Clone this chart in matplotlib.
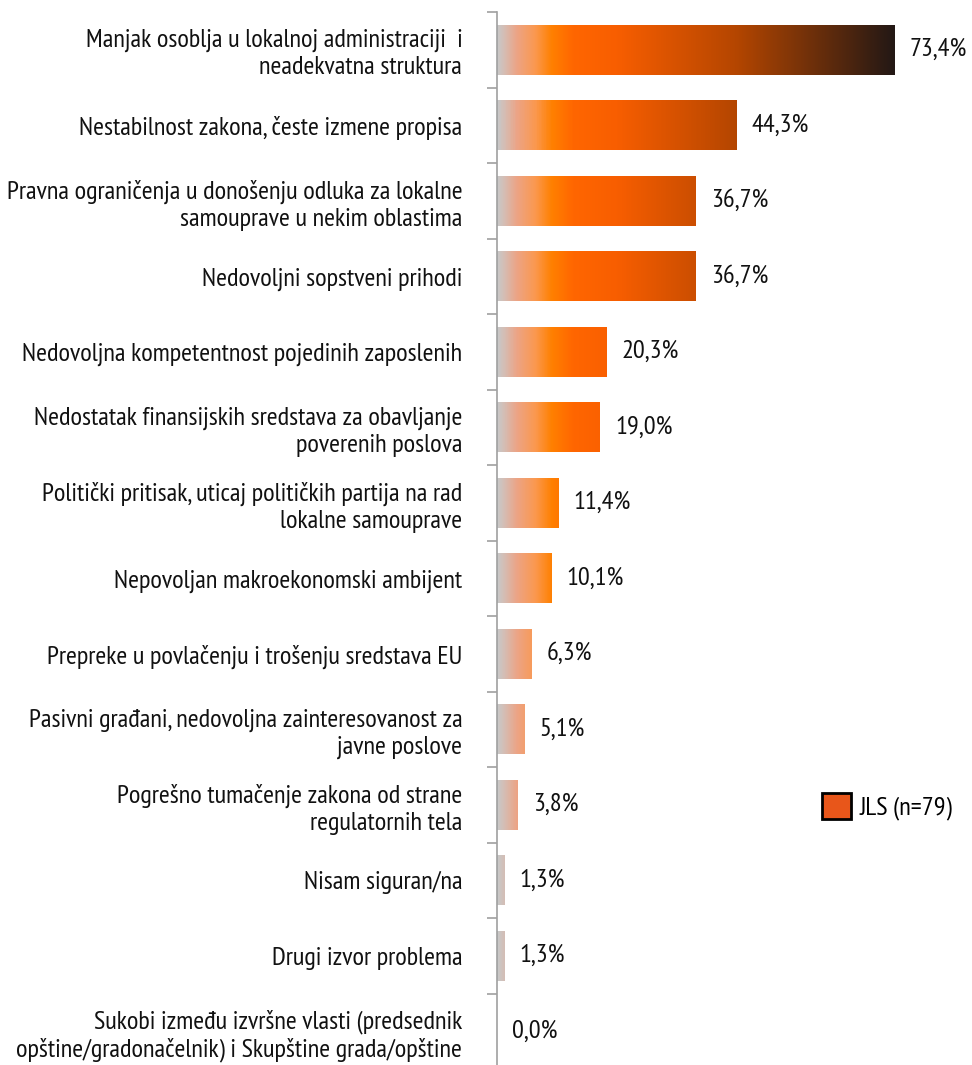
import numpy as np
import matplotlib.pyplot as plt
from matplotlib.colors import LinearSegmentedColormap, Normalize
from matplotlib.patches import Patch

plt.rcParams['font.family'] = ['PT Sans Narrow', 'DejaVu Sans']

categories = [
    'Manjak osoblja u lokalnoj administraciji  i\nneadekvatna struktura',
    'Nestabilnost zakona, česte izmene propisa',
    'Pravna ograničenja u donošenju odluka za lokalne\nsamouprave u nekim oblastima',
    'Nedovoljni sopstveni prihodi',
    'Nedovoljna kompetentnost pojedinih zaposlenih',
    'Nedostatak finansijskih sredstava za obavljanje\npoverenih poslova',
    'Politički pritisak, uticaj političkih partija na rad\nlokalne samouprave',
    'Nepovoljan makroekonomski ambijent',
    'Prepreke u povlačenju i trošenju sredstava EU',
    'Pasivni građani, nedovoljna zainteresovanost za\njavne poslove',
    'Pogrešno tumačenje zakona od strane\nregulatornih tela',
    'Nisam siguran/na',
    'Drugi izvor problema',
    'Sukobi između izvršne vlasti (predsednik\nopštine/gradonačelnik) i Skupštine grada/opštine',
]
values = [73.4, 44.3, 36.7, 36.7, 20.3, 19.0, 11.4, 10.1, 6.3, 5.1, 3.8, 1.3, 1.3, 0.0]
legend_label = 'JLS (n=79)'

# gradient depends on absolute x position (percent)
stops = [0.0, 1.3, 3.5, 7.0, 10.0, 14.0, 22.0, 44.0, 73.4]
stop_colors = ['#c8c8c8', '#d6bcb2', '#eca486', '#fb984e', '#ff8000', '#ff6600',
               '#f85e00', '#b54600', '#231815']
cmap = LinearSegmentedColormap.from_list('grad', list(zip(np.array(stops) / 73.4, stop_colors)))
norm = Normalize(0, 73.4)

fig = plt.figure(figsize=(9.72, 10.65), dpi=100)
ax = fig.add_axes([497 / 972, -4 / 1065, 1 - 497 / 972, 1057 / 1065])

xmax = 87.8
h = 0.66
fs = 19
for i, v in enumerate(values):
    if v > 0:
        grad = np.linspace(0, v, 256).reshape(1, -1)
        ax.imshow(grad, cmap=cmap, norm=norm, aspect='auto',
                  extent=[0, v, i + h / 2, i - h / 2], interpolation='bilinear')
    ax.text(v + 2.8, i, f'{v:.1f}'.replace('.', ',') + '%', va='center', ha='left',
            fontsize=fs, color='#111111')

ax.set_xlim(0, xmax)
ax.set_ylim(len(values) - 0.5, -0.5)

ax.set_yticks(range(len(values)))
ax.set_yticklabels(categories, fontsize=fs, color='#111111', linespacing=1.2)
ax.tick_params(axis='y', which='major', length=0, pad=25)
ax.set_yticks(np.arange(-0.5, len(values), 1), minor=True)
ax.tick_params(axis='y', which='minor', length=7, color='#a0a0a0', width=1.2)
ax.set_xticks([])
for s in ['top', 'right', 'bottom']:
    ax.spines[s].set_visible(False)
ax.spines['left'].set_color('#a0a0a0')
ax.spines['left'].set_linewidth(1.2)

handle = Patch(facecolor='#e8561a', edgecolor='black', linewidth=2)
ax.legend([handle], [legend_label], loc='center left', bbox_to_anchor=(0.635, 0.248),
          frameon=False, fontsize=fs, handlelength=1.1, handleheight=1.1, handletextpad=0.3)

fig.savefig('out.png', dpi=100)
